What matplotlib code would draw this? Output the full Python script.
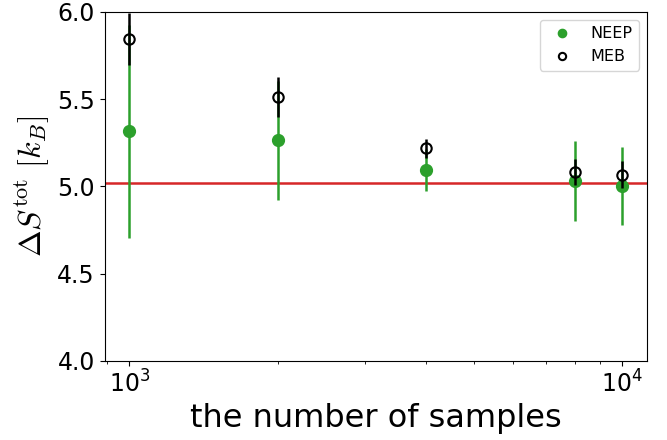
import matplotlib
matplotlib.use("Agg")
import matplotlib.pyplot as plt

plt.rcParams["mathtext.fontset"] = "cm"

# datos
n_samples = [1000, 2000, 4000, 8000, 10000]
neep_mean = [5.316, 5.264, 5.096, 5.03, 5.002]
neep_err  = [0.61, 0.34, 0.12, 0.23, 0.222]
meb_mean  = [5.845, 5.51, 5.217, 5.082, 5.067]
meb_err   = [0.15, 0.115, 0.053, 0.077, 0.078]
true_val  = 5.02

fig = plt.figure(figsize=(6.67, 4.4), dpi=100)
ax = fig.add_axes([0.157, 0.18, 0.813, 0.793])

ax.axhline(true_val, color="tab:red", lw=1.8, zorder=1)

ax.errorbar(n_samples, neep_mean, yerr=neep_err, fmt="none", ecolor="tab:green", elinewidth=1.8, zorder=2)
ax.plot(n_samples, neep_mean, "o", color="tab:green", ms=8.5, ls="none", label="NEEP", zorder=3)
ax.errorbar(n_samples, meb_mean, yerr=meb_err, fmt="none", ecolor="k", elinewidth=1.8, zorder=4)
ax.plot(n_samples, meb_mean, "o", mfc="none", mec="k", mew=1.5, ms=7.5, ls="none", label="MEB", zorder=5)

ax.set_xscale("log")
ax.set_ylim(4.0, 6.0)
ax.set_yticks([4.0, 4.5, 5.0, 5.5, 6.0])
ax.tick_params(labelsize=17)
ax.set_xlabel("the number of samples", fontsize=23)
ax.set_ylabel(r"$\Delta S^{\rm tot}\ [k_B]$", fontsize=23)
ax.legend(loc="upper right", fontsize=11.5, markerscale=0.7)

fig.savefig("out.png", dpi=100)
